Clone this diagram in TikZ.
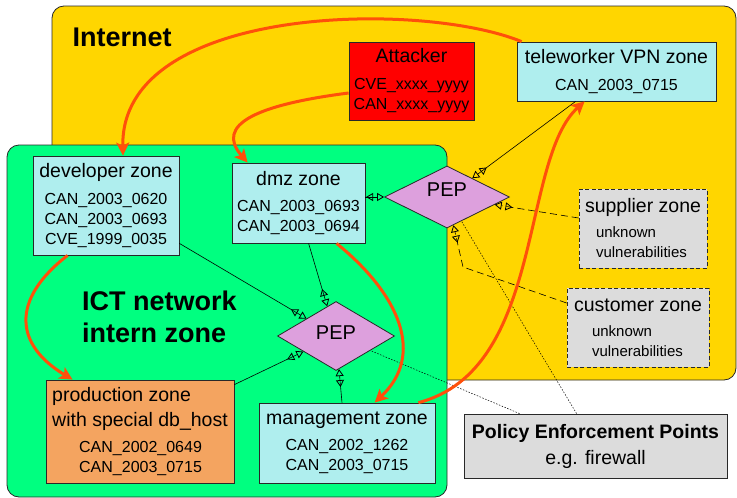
\documentclass[tikz,border=0pt]{standalone}
\usepackage{fontspec}
\setmainfont{Liberation Sans}
\usetikzlibrary{shapes.geometric,arrows.meta,calc}
\definecolor{inetc}{RGB}{255,214,0}
\definecolor{ictc}{RGB}{0,255,128}
\definecolor{zonec}{RGB}{175,238,238}
\definecolor{attc}{RGB}{255,0,0}
\definecolor{grayc}{RGB}{220,220,220}
\definecolor{pepc}{RGB}{221,160,221}
\definecolor{prodc}{RGB}{244,164,96}
\definecolor{attackc}{RGB}{255,80,10}
\definecolor{edgec}{RGB}{40,40,40}
\newcommand{\zt}{\fontsize{19.5}{22}\selectfont}
\begin{document}
\begin{tikzpicture}[x=1pt,y=-1pt,
  regionst/.style={draw=edgec, line width=0.8pt, rounded corners=12pt},
  boxst/.style={draw=edgec, line width=0.8pt, inner sep=0pt, font=\fontsize{16}{20}\selectfont},
  dashbox/.style={boxst, fill=grayc, dash pattern=on 4pt off 2.5pt, font=\fontsize{15}{20}\selectfont},
  pepst/.style={diamond, aspect=2, draw=edgec, line width=0.8pt, fill=pepc, inner sep=0pt, font=\fontsize{20}{22}\selectfont},
  pepline/.style={draw=black, line width=0.6pt,
    -{Triangle[open,reversed,length=7pt,width=8pt,line width=0.8pt,sep=4pt]Triangle[open,length=7pt,width=8pt,line width=0.8pt]}},
  dashline/.style={pepline, dash pattern=on 7pt off 4pt},
  dotline/.style={draw=black, line width=0.5pt, dash pattern=on 1.5pt off 1.5pt},
  attackst/.style={draw=attackc, line width=3pt, -{Stealth[length=13pt,width=13pt,inset=3pt]}},
  bigtitle/.style={inner sep=0pt, font=\bfseries\fontsize{27}{32}\selectfont}
]
\useasboundingbox (0,0) rectangle (737,498);
% regions
\draw[regionst, fill=inetc] (52,6) rectangle (736,380);
\draw[regionst, fill=ictc] (7,145) rectangle (447,497);
\node[bigtitle, anchor=west] (inetlbl) at (72.5,37.5) {Internet};
\node[bigtitle, anchor=west, align=left] (ictlbl) at (82,316.5) {ICT network\\intern zone};
% boxes
\node[boxst, fill=attc, minimum width=125pt, minimum height=78pt, align=center] (att) at (411.5,81)
  {{\zt Attacker}\\[7pt]CVE\_xxxx\_yyyy\\CAN\_xxxx\_yyyy};
\node[boxst, fill=zonec, minimum width=199pt, minimum height=59pt, align=center] (tele) at (616.5,71.5)
  {{\zt teleworker VPN zone}\\[6.5pt]CAN\_2003\_0715};
\node[boxst, fill=zonec, minimum width=146pt, minimum height=99pt, align=center] (dev) at (106,205.5)
  {{\zt developer zone}\\[6.5pt]CAN\_2003\_0620\\CAN\_2003\_0693\\CVE\_1999\_0035};
\node[boxst, fill=zonec, minimum width=133pt, minimum height=80pt, align=center] (dmz) at (298.5,203)
  {{\zt dmz zone}\\[6.5pt]CAN\_2003\_0693\\CAN\_2003\_0694};
\node[dashbox, minimum width=128pt, minimum height=79pt, align=left] (sup) at (643,228.5)
  {{\zt supplier zone}\\[5pt]\hspace*{11pt}unknown\\\hspace*{11pt}vulnerabilities};
\node[dashbox, minimum width=142pt, minimum height=79pt, align=left] (cust) at (638,327.5)
  {{\zt customer zone}\\[5pt]\hspace*{18pt}unknown\\\hspace*{18pt}vulnerabilities};
\node[boxst, fill=prodc, minimum width=188pt, minimum height=103pt, align=left] (prod) at (140,431.5)
  {{\zt production zone}\\[5pt]{\zt with special db\_host}\\[6pt]\hspace*{27pt}CAN\_2002\_0649\\\hspace*{27pt}CAN\_2003\_0715};
\node[boxst, fill=zonec, minimum width=176pt, minimum height=80pt, align=center] (mgmt) at (347,443)
  {{\zt management zone}\\[6.5pt]CAN\_2002\_1262\\CAN\_2003\_0715};
\node[boxst, fill=grayc, minimum width=263pt, minimum height=64pt, align=center, font=\fontsize{19.5}{20}\selectfont] (pol) at (595.5,446)
  {{\bfseries Policy Enforcement Points}\\[6pt]e.g. firewall};
\node[pepst, minimum width=125pt, minimum height=62pt] (pep1) at (447,197) {\raisebox{14pt}{PEP}};
\node[pepst, minimum width=117pt, minimum height=69pt] (pep2) at (336,336) {\raisebox{6pt}{PEP}};
\coordinate (custbend) at (463,267);
% PEP connectors
\draw[pepline] ($(tele.south west)+(59,0)$) -- (pep1);
\draw[pepline] (dmz.east |- pep1.west) -- (pep1);
\draw[dashline] ($(sup.west)+(0,-10.5)$) -- (pep1);
\draw[dashline] ($(cust.west)+(0,-24.5)$) -- (custbend) -- (pep1);
\draw[pepline] ($(dev.south east)+(0,-12)$) -- (pep2);
\draw[pepline] ($(dmz.south west)+(77,0)$) -- (pep2);
\draw[pepline] ($(prod.north east)+(0,5)$) -- (pep2);
\draw[pepline] ($(mgmt.north)+(-5,0)$) -- (pep2);
\draw[dotline] ($(pol.north west)+(56,0)$) -- (pep2);
\draw[dotline] ($(pol.north west)+(113,0)$) -- (pep1);
% attack paths
\draw[attackst] ($(tele.north west)+(5,0)$) .. controls (420,0) and (120,5) .. ($(dev.north)+(17,0)$);
\draw[attackst] ($(att.west)+(0,12)$) .. controls (255,105) and (215,125) .. ($(dmz.north west)+(16,0)$);
\draw[attackst] ($(dev.south west)+(35,0)$) .. controls (10,300) and (15,345) .. ($(prod.north west)+(27,0)$);
\draw[attackst] ($(dmz.south west)+(105,0)$) .. controls (400,295) and (425,355) .. ($(mgmt.north west)+(116,0)$);
\draw[attackst] ($(mgmt.north east)+(-17,0)$) .. controls (545,370) and (520,160) .. ($(tele.south west)+(68,0)$);
\end{tikzpicture}
\end{document}
